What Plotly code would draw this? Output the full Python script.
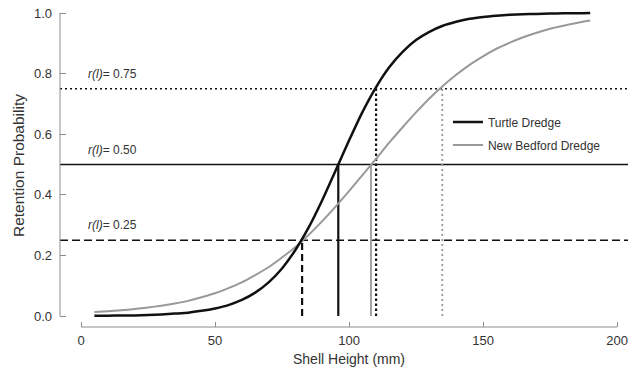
import plotly.graph_objects as go

# ---- data ----
shell_height = [5, 10, 15, 20, 25, 30, 35, 40, 45, 50, 55, 60, 65, 70, 75, 80, 85, 90, 95,
                100, 105, 110, 115, 120, 125, 130, 135, 140, 145, 150, 155, 160, 165, 170,
                175, 180, 185, 190]
turtle = [0.001, 0.001, 0.002, 0.002, 0.003, 0.005, 0.008, 0.011, 0.017, 0.025, 0.036, 0.053,
          0.077, 0.111, 0.157, 0.218, 0.293, 0.382, 0.480, 0.579, 0.673, 0.754, 0.821, 0.872,
          0.911, 0.938, 0.958, 0.971, 0.981, 0.987, 0.991, 0.994, 0.996, 0.997, 0.998, 0.999,
          0.999, 1.000]
new_bedford = [0.013, 0.016, 0.019, 0.023, 0.028, 0.034, 0.041, 0.050, 0.062, 0.075, 0.092,
               0.111, 0.135, 0.161, 0.193, 0.228, 0.268, 0.313, 0.361, 0.412, 0.465, 0.518,
               0.572, 0.623, 0.672, 0.718, 0.759, 0.796, 0.829, 0.857, 0.882, 0.902, 0.920,
               0.935, 0.948, 0.958, 0.967, 0.975]

levels = [0.25, 0.50, 0.75]
level_labels = ["<i>r(l)</i>= 0.25", "<i>r(l)</i>= 0.50", "<i>r(l)</i>= 0.75"]
turtle_L = [82.5, 96.0, 110.1]      # L25, L50, L75
new_bedford_L = [None, 108.2, 134.8]  # L25 hidden under Turtle's line

x_ticks = [0, 50, 100, 150, 200]
y_ticks = [0.0, 0.2, 0.4, 0.6, 0.8, 1.0]
y_ticktext = ["0.0", "0.2", "0.4", "0.6", "0.8", "1.0"]

# ---- styling ----
FONT = "Liberation Sans, Arial, sans-serif"
TXT = "#333333"
AX = "#8c8c8c"
BLACK = "#111111"
GRAY = "#999999"
hdash = {0.25: "8px,4px", 0.50: "solid", 0.75: "2px,3px"}
vdash_turtle = {0.25: "7px,4px", 0.50: "solid", 0.75: "2.5px,2.5px"}
vdash_nb = {0.25: "7px,4px", 0.50: "solid", 0.75: "2px,3px"}

fig = go.Figure()

# horizontal reference levels
for lev, lab in zip(levels, level_labels):
    fig.add_shape(type="line", xref="paper", x0=0, x1=1, yref="y", y0=lev, y1=lev,
                  line=dict(color=BLACK, width=1.4, dash=hdash[lev]), layer="below")
    fig.add_annotation(x=2, y=lev, xref="x", yref="y", text=lab, showarrow=False,
                       xanchor="left", yanchor="bottom", yshift=6,
                       font=dict(family=FONT, size=12, color=TXT))

# vertical drop lines
for lev, L in zip(levels, new_bedford_L):
    if L is not None:
        fig.add_trace(go.Scatter(x=[L, L], y=[0, lev], mode="lines", showlegend=False,
                                 hoverinfo="skip",
                                 line=dict(color=GRAY, width=1.8, dash=vdash_nb[lev])))
for lev, L in zip(levels, turtle_L):
    fig.add_trace(go.Scatter(x=[L, L], y=[0, lev], mode="lines", showlegend=False,
                             hoverinfo="skip",
                             line=dict(color=BLACK, width=2.2, dash=vdash_turtle[lev])))

# curves
fig.add_trace(go.Scatter(x=shell_height, y=new_bedford, mode="lines", name="New Bedford Dredge",
                         legendgroup="nb", legendrank=2,
                         line=dict(color=GRAY, width=2, shape="spline", smoothing=0.6)))
fig.add_trace(go.Scatter(x=shell_height, y=turtle, mode="lines", name="Turtle Dredge",
                         legendgroup="td", legendrank=1,
                         line=dict(color=BLACK, width=2.5, shape="spline", smoothing=0.6)))

# R-style detached axis lines
fig.add_shape(type="line", xref="x", x0=x_ticks[0], x1=x_ticks[-1], yref="paper", y0=0, y1=0,
              line=dict(color=AX, width=1))
fig.add_shape(type="line", xref="paper", x0=0, x1=0, yref="y", y0=y_ticks[0], y1=y_ticks[-1],
              line=dict(color=AX, width=1))

# axis titles
fig.add_annotation(text="Shell Height (mm)", xref="paper", yref="paper", x=0.5088, y=-0.0994,
                   showarrow=False, xanchor="center", yanchor="middle",
                   font=dict(family=FONT, size=14, color=TXT))
fig.add_annotation(text="Retention Probability", xref="paper", yref="paper", x=-0.0739, y=0.50,
                   showarrow=False, xanchor="center", yanchor="middle", textangle=-90,
                   font=dict(family=FONT, size=15.5, color=TXT))

fig.update_layout(
    width=629, height=368,
    margin=dict(l=60, r=1, t=5, b=41, autoexpand=False),
    plot_bgcolor="white", paper_bgcolor="white",
    font=dict(family=FONT, size=13, color=TXT),
    xaxis=dict(range=[-7.836, 204.1], tickvals=x_ticks, ticks="inside", ticklen=5,
               tickcolor=AX, tickwidth=1, showline=False, showgrid=False, zeroline=False,
               automargin=False,
               ticklabelstandoff=4, tickfont=dict(family=FONT, size=13, color=TXT)),
    yaxis=dict(range=[-0.0363, 1.0264], tickvals=y_ticks, ticktext=y_ticktext, ticks="inside",
               ticklen=6, tickcolor=AX, tickwidth=1, showline=False, showgrid=False,
               zeroline=False, ticklabelstandoff=7, automargin=False,
               tickfont=dict(family=FONT, size=13, color=TXT)),
    legend=dict(x=0.683, y=0.6817, xanchor="left", yanchor="top", bgcolor="rgba(0,0,0,0)",
                traceorder="grouped", tracegroupgap=4,
                font=dict(family=FONT, size=12, color=TXT)),
    showlegend=True,
)

fig.write_html("out.html", config={"displayModeBar": False},
               post_script="document.body.style.margin='0px';document.body.style.overflow='hidden';")
